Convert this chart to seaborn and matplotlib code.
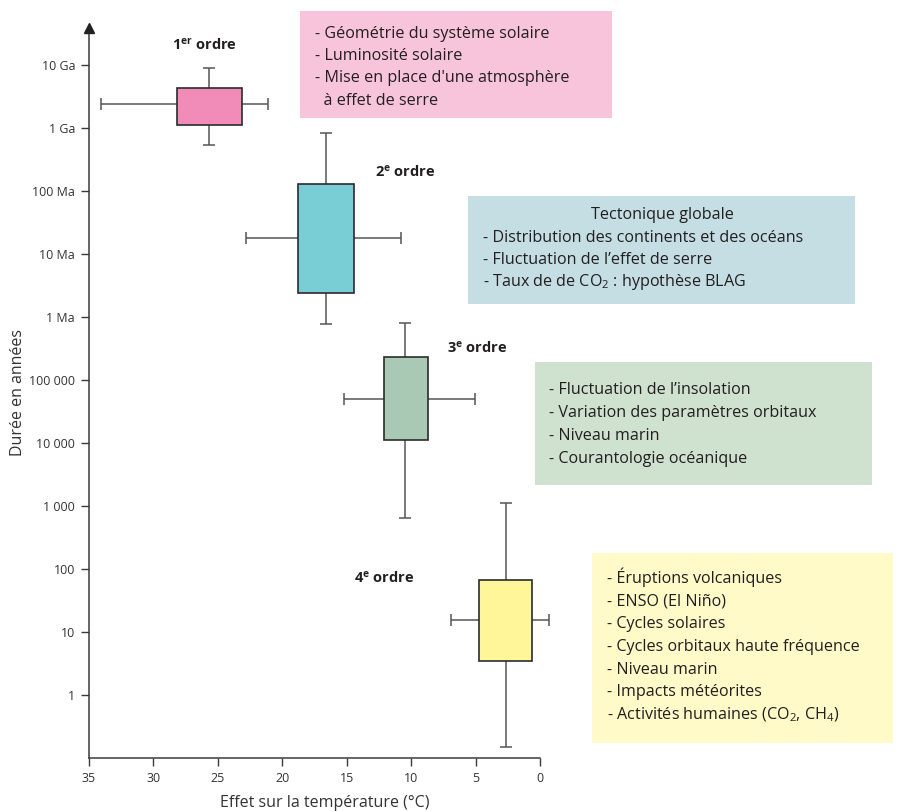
import matplotlib
matplotlib.use("Agg")
import matplotlib.pyplot as plt
from matplotlib.patches import Rectangle
import numpy as np
import pandas as pd
import seaborn as sns

# --- data -------------------------------------------------------------
orders = ["1er", "2e", "3e", "4e"]
order_labels = ["1$^{er}$ ordre", "2$^{e}$ ordre", "3$^{e}$ ordre", "4$^{e}$ ordre"]

# temperature effect (°C): box edges, whisker ends, whisker crossing
temp_box_hi = [28.2, 18.8, 12.1, 4.7]
temp_box_lo = [23.1, 14.4, 8.7, 0.6]
temp_whisk_hi = [34.1, 22.8, 15.2, 6.9]
temp_whisk_lo = [21.1, 10.8, 5.05, -0.7]
temp_mid = [25.7, 16.6, 10.5, 2.65]

# duration (years): box edges, whisker ends, whisker crossing
dur_box_top = [4.3e9, 1.3e8, 2.3e5, 67]
dur_box_bot = [1.1e9, 2.4e6, 1.1e4, 3.5]
dur_whisk_top = [8.9e9, 8.3e8, 7.9e5, 1100]
dur_whisk_bot = [5.4e8, 7.8e5, 650, 0.15]
dur_mid = [2.4e9, 1.8e7, 5.0e4, 15.5]

box_colors = ["#f18cb9", "#79ced6", "#a9c9b5", "#fff599"]

y_ticks = [1, 10, 100, 1e3, 1e4, 1e5, 1e6, 1e7, 1e8, 1e9, 1e10]
y_ticklabels = ["1", "10", "100", "1 000", "10 000", "100 000",
                "1 Ma", "10 Ma", "100 Ma", "1 Ga", "10 Ga"]
x_ticks = [35, 30, 25, 20, 15, 10, 5, 0]

df = pd.DataFrame({
    "ordre": orders,
    "t_mid": temp_mid, "d_mid": dur_mid,
    "t_box_hi": temp_box_hi, "t_box_lo": temp_box_lo,
    "t_wh_hi": temp_whisk_hi, "t_wh_lo": temp_whisk_lo,
    "d_box_top": dur_box_top, "d_box_bot": dur_box_bot,
    "d_wh_top": dur_whisk_top, "d_wh_bot": dur_whisk_bot,
})

# legend boxes: causes associated with each order
causes_1 = ["- Géométrie du système solaire",
            "- Luminosité solaire",
            "- Mise en place d'une atmosphère",
            "  à effet de serre"]
causes_2_title = "Tectonique globale"
causes_2 = ["- Distribution des continents et des océans",
            "- Fluctuation de l\u2019effet de serre",
            "- Taux de de CO$_2$ : hypothèse BLAG"]
causes_3 = ["- Fluctuation de l\u2019insolation",
            "- Variation des paramètres orbitaux",
            "- Niveau marin",
            "- Courantologie océanique"]
causes_4 = ["- Éruptions volcaniques",
            "- ENSO (El Niño)",
            "- Cycles solaires",
            "- Cycles orbitaux haute fréquence",
            "- Niveau marin",
            "- Impacts météorites",
            "- Activités humaines (CO$_2$, CH$_4$)"]
panel_colors = ["#f8c4dc", "#c4dee4", "#cfe1cf", "#fffac8"]

# --- style ------------------------------------------------------------
sns.set_theme(style="ticks")
FONT = ["Open Sans", "DejaVu Sans"]
plt.rcParams["font.family"] = FONT
plt.rcParams["mathtext.default"] = "regular"
TXT = "#231f20"
AX = "#3a3a3a"

W, H = 901, 811
fig = plt.figure(figsize=(W / 100, H / 100), dpi=100)

# axes placed in pixel terms: x 35 -> px 89, 0 -> px 540
px_per_deg = (540 - 89) / 35
right_px = 560
x_right = -(right_px - 540) / px_per_deg
ax = fig.add_axes([89 / W, (H - 758) / H, (right_px - 89) / W, (758 - 28) / H])
ax.set_facecolor("none")
ax.set_yscale("log")
ax.set_xlim(35, x_right)
ax.set_ylim(0.1, 10 ** 10.587)

# whiskers (drawn first, boxes cover the inner part)
for _, r in df.iterrows():
    ax.errorbar(r.t_mid, r.d_mid,
                xerr=[[r.t_mid - r.t_wh_lo], [r.t_wh_hi - r.t_mid]],
                yerr=[[r.d_mid - r.d_wh_bot], [r.d_wh_top - r.d_mid]],
                fmt="none", ecolor="#555555", elinewidth=1.1,
                capsize=4.3, capthick=1.1, zorder=2)

# boxes
for i, r in df.iterrows():
    ax.add_patch(Rectangle((r.t_box_lo, r.d_box_bot),
                           r.t_box_hi - r.t_box_lo, r.d_box_top - r.d_box_bot,
                           facecolor=box_colors[i], edgecolor="#2b2b2b",
                           linewidth=1.2, zorder=3))

# order labels
label_t = [26.0, 10.5, 4.9, 12.1]
label_d = [2.1e10, 2.0e8, 3.3e5, 72]
for lab, t, d in zip(order_labels, label_t, label_d):
    ax.text(t, d, lab, ha="center", va="center", fontsize=10.5,
            fontweight="bold", color=TXT)

# axes cosmetics
sns.despine(ax=ax)
ax.spines["bottom"].set_bounds(0, 35)
for s in ("left", "bottom"):
    ax.spines[s].set_color(AX)
    ax.spines[s].set_linewidth(1.1)
ax.plot([0], [1.0], marker="^", markersize=7, color="#222222",
        transform=ax.transAxes, clip_on=False, zorder=5)

ax.set_yticks(y_ticks)
ax.set_yticklabels(y_ticklabels)
ax.yaxis.set_minor_locator(matplotlib.ticker.NullLocator())
ax.set_xticks(x_ticks)
ax.set_xticklabels([str(v) for v in x_ticks])
ax.tick_params(axis="both", direction="out", length=6, width=1.0,
               color=AX, labelsize=9, labelcolor="#333333", pad=4)
ax.set_xlabel("Effet sur la température (°C)", fontsize=11.5, color="#333333",
              labelpad=7)
ax.set_ylabel("Durée en années", fontsize=11.5, color="#333333", labelpad=2)


# --- text panels (pixel coordinates from the top-left corner) --------
def panel(x0, y0, x1, y1, color):
    fig.add_artist(Rectangle((x0 / W, (H - y1) / H), (x1 - x0) / W,
                             (y1 - y0) / H, transform=fig.transFigure,
                             facecolor=color, edgecolor="none", zorder=0))


def lines(x, baselines, texts, ha="left"):
    for yb, t in zip(baselines, texts):
        fig.text(x / W, (H - yb) / H, t, ha=ha, va="baseline",
                 fontsize=11.6, color=TXT)


panel(300, 11, 612, 118, panel_colors[0])
lines(315, [37.5, 60, 82.5, 105], causes_1)

panel(468, 196, 855, 304, panel_colors[1])
lines(662, [219], [causes_2_title], ha="center")
lines(483, [241.5, 264, 286.5], causes_2)

panel(535, 362, 872, 485, panel_colors[2])
lines(549, [394, 417, 440, 463], causes_3)

panel(592, 553, 893, 743, panel_colors[3])
lines(607, [583, 606, 628.5, 651, 673.5, 696.5, 719], causes_4)

fig.savefig("out.png", dpi=100)
